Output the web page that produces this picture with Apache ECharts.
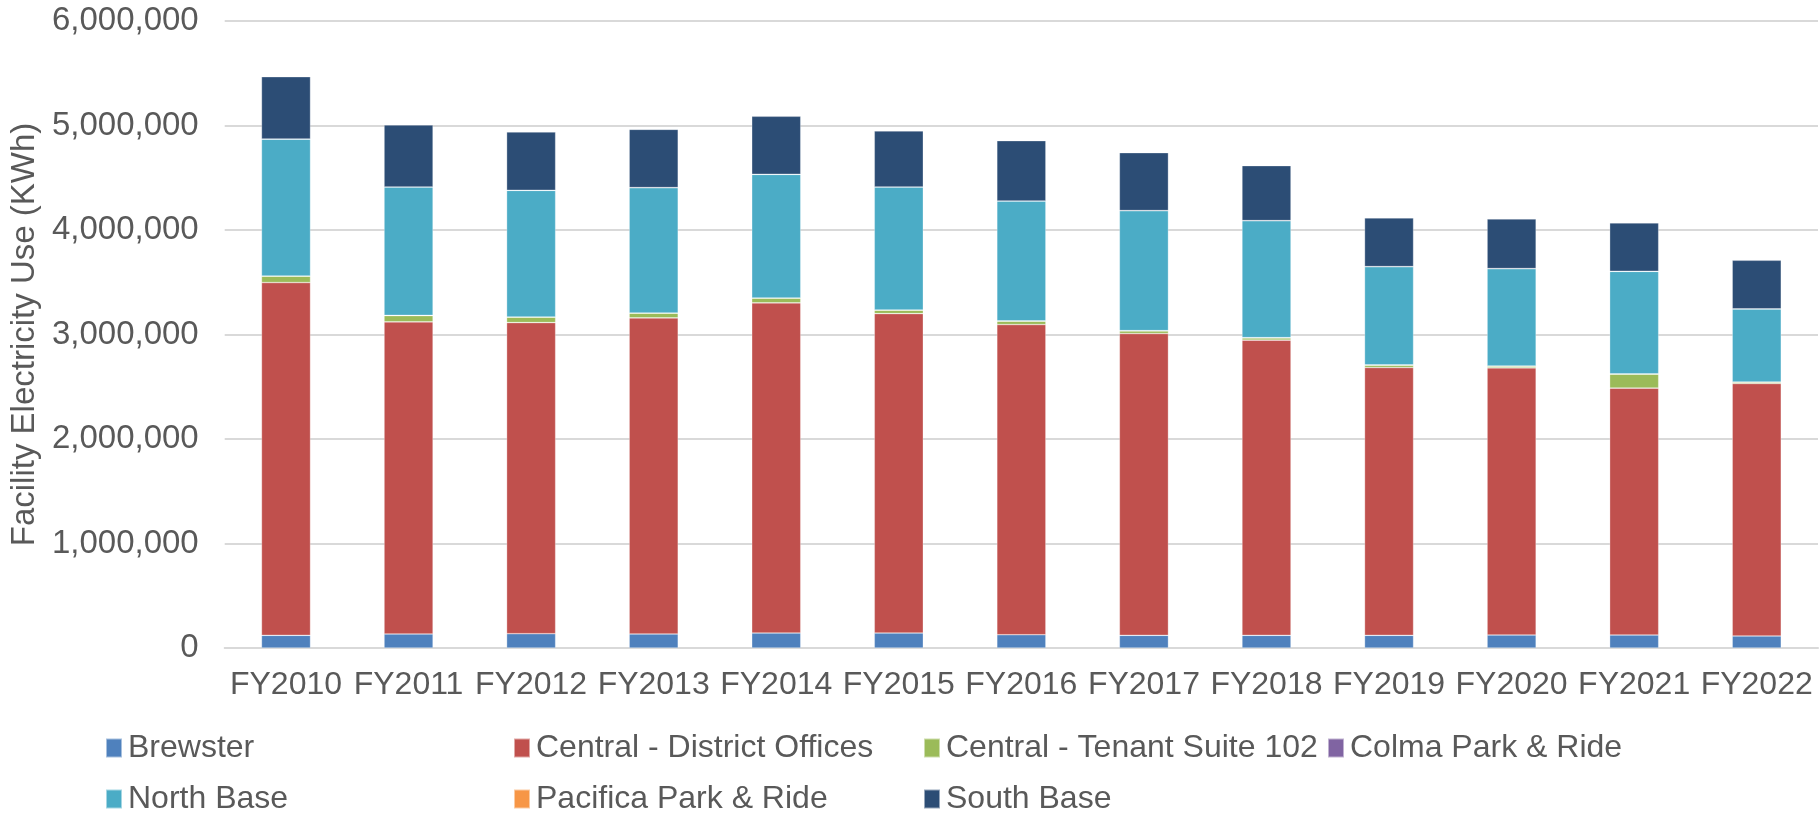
<!DOCTYPE html>
<html>
<head>
<meta charset="utf-8">
<script src="https://cdn.jsdelivr.net/npm/echarts@6/dist/echarts.min.js"></script>
<style>
  html, body { margin: 0; padding: 0; background: #fff; }
  #chart { width: 1819px; height: 815px; }
</style>
</head>
<body>
<div id="chart"></div>
<script>
const years = ['FY2010', 'FY2011', 'FY2012', 'FY2013', 'FY2014', 'FY2015', 'FY2016',
  'FY2017', 'FY2018', 'FY2019', 'FY2020', 'FY2021', 'FY2022']

// kWh per facility
const brewster = [121000, 134000, 137000, 134000, 143000, 143000, 127000, 121000, 121000, 121000, 124000, 124000, 115000]
const centralOffices = [3376000, 2987000, 2977000, 3025000, 3160000, 3057000, 2968000, 2888000, 2825000, 2563000, 2557000, 2363000, 2416000]
const tenantSuite = [61000, 60000, 52000, 45000, 45000, 33000, 33000, 26000, 22000, 23000, 16000, 134000, 13000]
const colma = [2000, 2000, 2000, 2000, 2000, 2000, 2000, 2000, 2000, 2000, 2000, 2000, 2000]
const northBase = [1310000, 1228000, 1211000, 1199000, 1182000, 1176000, 1147000, 1148000, 1119000, 940000, 931000, 981000, 698000]
const pacifica = [1000, 1000, 1000, 1000, 1000, 1000, 1000, 1000, 1000, 1000, 1000, 1000, 1000]
const southBase = [596000, 593000, 558000, 557000, 555000, 536000, 577000, 554000, 526000, 466000, 475000, 463000, 465000]

const yTicks = { min: 0, max: 6000000, interval: 1000000 }

const seriesDefs = [
  { name: 'Brewster', data: brewster, color: '#4F81BD' },
  { name: 'Central - District Offices', data: centralOffices, color: '#C0504D' },
  { name: 'Central - Tenant Suite 102', data: tenantSuite, color: '#9BBB59' },
  { name: 'Colma Park & Ride', data: colma, color: '#8064A2' },
  { name: 'North Base', data: northBase, color: '#4BACC6' },
  { name: 'Pacifica Park & Ride', data: pacifica, color: '#F79646' },
  { name: 'South Base', data: southBase, color: '#2C4D75' }
]

// legend slots: two rows, four columns
const legendPos = [
  [100, 747], [508, 747], [918, 747], [1322, 747],
  [100, 798], [508, 798], [918, 798]
]

const font = 'Liberation Sans, Arial, sans-serif'
const textColor = '#595959'

const chart = echarts.init(document.getElementById('chart'))
chart.setOption({
  animation: false,
  textStyle: { fontFamily: font },
  grid: { left: 224, right: 1, top: 21, bottom: 167 },
  legend: seriesDefs.map((s, i) => ({
    data: [s.name],
    left: legendPos[i][0],
    top: legendPos[i][1] - 20,
    itemWidth: 16,
    itemHeight: 19,
    icon: 'rect',
    textStyle: { fontSize: 32, color: textColor, fontFamily: font, padding: [0, 0, 0, 1] }
  })),
  xAxis: {
    type: 'category',
    data: years,
    axisLine: { lineStyle: { color: '#d9d9d9', width: 2 } },
    axisTick: { show: false },
    axisLabel: { fontSize: 32, color: textColor, margin: 21, interval: 0 }
  },
  yAxis: {
    type: 'value',
    min: yTicks.min,
    max: yTicks.max,
    interval: yTicks.interval,
    name: 'Facility Electricity Use (KWh)',
    nameLocation: 'middle',
    nameGap: 174,
    nameRotate: 90,
    nameTextStyle: { fontSize: 33, color: textColor },
    axisLine: { show: false },
    axisTick: { show: false },
    axisLabel: {
      fontSize: 33,
      color: textColor,
      margin: 26,
      formatter: v => v.toLocaleString('en-US')
    },
    splitLine: { lineStyle: { color: '#d9d9d9', width: 2 } }
  },
  series: seriesDefs.map(s => ({
    name: s.name,
    type: 'bar',
    stack: 'total',
    barWidth: '40%',
    data: s.data,
    itemStyle: { color: s.color, borderColor: 'rgba(255,255,255,0.5)', borderWidth: 0.6 }
  }))
})
</script>
</body>
</html>
